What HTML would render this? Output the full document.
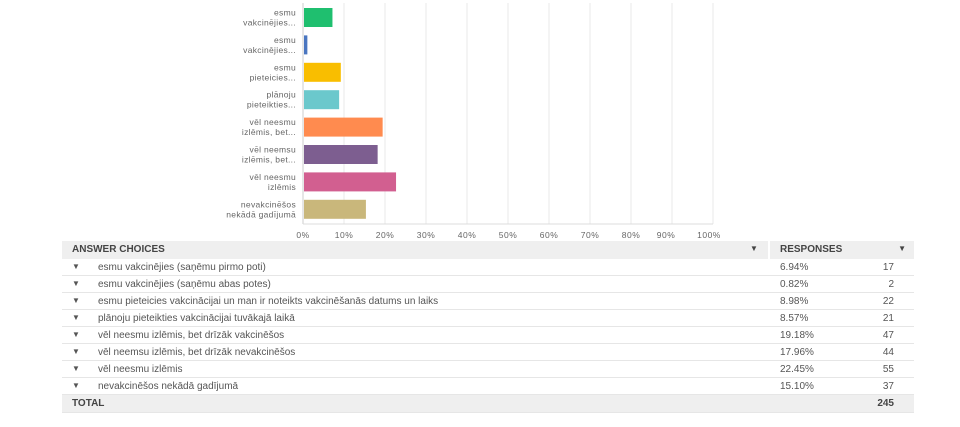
<!DOCTYPE html>
<html><head><meta charset="utf-8"><style>
body{margin:0;width:960px;height:427px;background:#fff;font-family:"Liberation Sans",sans-serif;color:#555;position:relative;overflow:hidden}
svg{position:absolute;left:0;top:0}
.tbl{position:absolute;left:62px;top:241px;width:852px;font-size:10px}
.row{position:relative;height:17px;border-bottom:1px solid #e6e6e6;box-sizing:border-box}
.row span{position:absolute;top:3px}
.hdr{background:#efefef;font-weight:bold;color:#444;height:18px;border:none}
.tot{background:#efefef;font-weight:bold;color:#444;height:18px}
.arrow{left:10px;font-size:8px}
.lbl{left:36px}.pct{left:718px}.cnt{right:20px}
</style></head><body>
<svg width="960" height="240" id="chart"></svg>
<div class="tbl">
<div class="row hdr"><span style="left:10px">ANSWER CHOICES</span><span style="left:688px;font-size:8px">▼</span><span style="left:706px;top:0;height:18px;width:2px;background:#fff"></span><span style="left:718px">RESPONSES</span><span style="right:8px;font-size:8px">▼</span></div>
<div id="rows"></div>
<div class="row tot"><span style="left:10px">TOTAL</span><span class="cnt">245</span></div>
</div>
<script>
const categories=["esmu vakcinējies (saņēmu pirmo poti)","esmu vakcinējies (saņēmu abas potes)","esmu pieteicies vakcinācijai un man ir noteikts vakcinēšanās datums un laiks","plānoju pieteikties vakcinācijai tuvākajā laikā","vēl neesmu izlēmis, bet drīzāk vakcinēšos","vēl neemsu izlēmis, bet drīzāk nevakcinēšos","vēl neesmu izlēmis","nevakcinēšos nekādā gadījumā"];
const shortLabels=[["esmu","vakcinējies..."],["esmu","vakcinējies..."],["esmu","pieteicies..."],["plānoju","pieteikties..."],["vēl neesmu","izlēmis, bet..."],["vēl neemsu","izlēmis, bet..."],["vēl neesmu","izlēmis"],["nevakcinēšos","nekādā gadījumā"]];
const percents=[6.94,0.82,8.98,8.57,19.18,17.96,22.45,15.10];
const counts=[17,2,22,21,47,44,55,37];
const colors=["#1fbf6f","#4a76c0","#f9be00","#6bc8cc","#ff8b4f","#7d5e90","#d25f90","#c9b77b"];
const ticks=[0,10,20,30,40,50,60,70,80,90,100];
const NS="http://www.w3.org/2000/svg",svg=document.getElementById('chart');
const x=v=>303+v*4.1, yc=i=>17.5+i*27.4;
function mk(t,a){const e=document.createElementNS(NS,t);for(const k in a)e.setAttribute(k,a[k]);svg.appendChild(e);return e;}
ticks.forEach(t=>{const g=mk('line',{x1:x(t),x2:x(t),y1:3,y2:224,stroke:t?'#e8e8e8':'#ccc'});


const l=mk('text',{x:x(t)+(t==100?-4:t==90?-6:0),y:238,'text-anchor':'middle','font-size':8.5,fill:'#666','letter-spacing':'0.5'});l.textContent=t+'%';

});
mk('line',{x1:303,x2:713,y1:224,y2:224,stroke:'#ddd'});
percents.forEach((p,i)=>{const r=mk('rect',{x:x(0)+1,y:yc(i)-9.5,width:x(p)-x(0),height:19,fill:colors[i]});


shortLabels[i].forEach((s,j)=>{const t=mk('text',{x:296,y:yc(i)-2+j*10,'text-anchor':'end','font-size':8.5,fill:'#666','letter-spacing':'0.3'});t.textContent=s;

});});
const rows=document.getElementById('rows');
categories.forEach((c,i)=>{const d=document.createElement('div');d.className='row';


d.innerHTML='<span class="arrow">▼</span><span class="lbl">'+c+'</span><span class="pct">'+percents[i].toFixed(2)+'%</span><span class="cnt">'+counts[i]+'</span>';rows.appendChild(d);});
</script>
</body></html>
